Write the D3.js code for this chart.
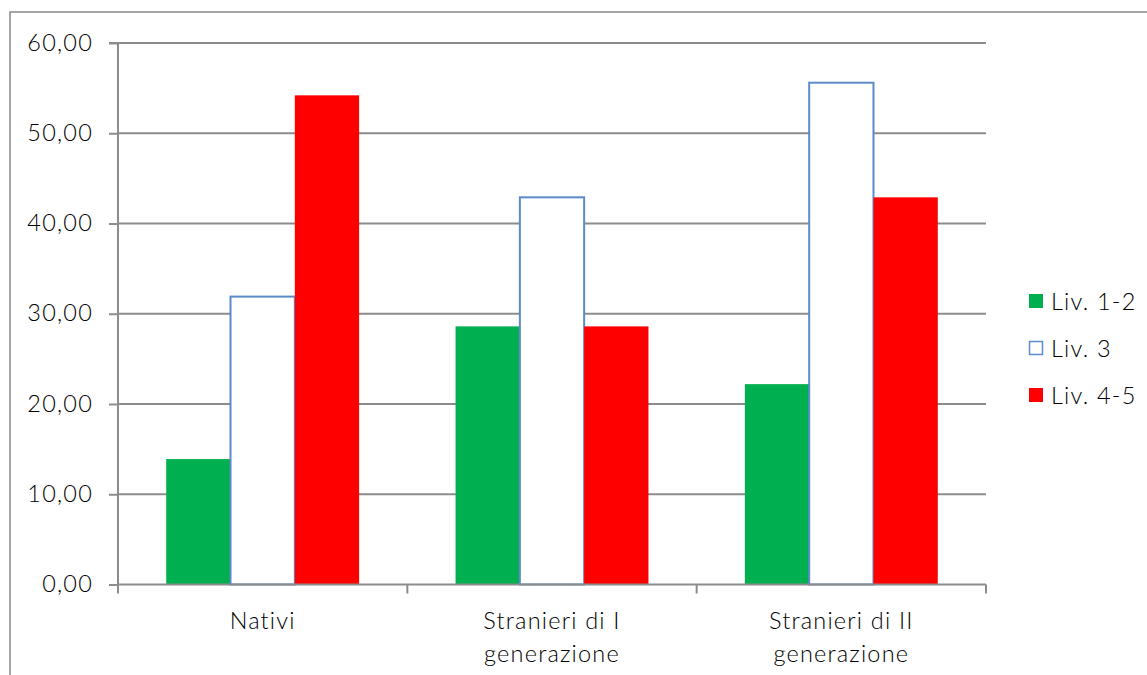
<!DOCTYPE html>
<html><head><meta charset="utf-8">
<script src="https://cdn.jsdelivr.net/npm/d3@7"></script>
<style>body{margin:0;background:#fff}svg{display:block}</style>
</head><body>
<svg id="c" width="1147" height="675"></svg>
<script>
const categories = [["Nativi"], ["Stranieri di I", "generazione"], ["Stranieri di II", "generazione"]];
const seriesNames = ["Liv. 1-2", "Liv. 3", "Liv. 4-5"];
const liv12 = [13.9, 28.6, 22.2];
const liv3 = [31.9, 42.9, 55.6];
const liv45 = [54.2, 28.6, 42.9];
const yTicks = [0, 10, 20, 30, 40, 50, 60];

const series = [liv12, liv3, liv45];
const fills = ["#00b050", "#ffffff", "#ff0000"];
const strokes = [null, "#5b8bc9", null];
const font = "'Century Gothic', 'Lato', 'DejaVu Sans', sans-serif";
const fw = 300;
const fs = 23.5;
const ls = 1.2;

const svg = d3.select("#c");
const L = 118, R = 986, T = 43, B = 584.5;
// frame
svg.append("rect").attr("x", 10).attr("y", 12).attr("width", 1150).attr("height", 680)
  .attr("fill", "none").attr("stroke", "#888").attr("stroke-width", 1.5);

const x0 = d3.scaleBand().domain(d3.range(categories.length)).range([L, R]).paddingInner(0).paddingOuter(0);
const bw = x0.bandwidth() / 4.5;
const y = d3.scaleLinear().domain([0, 60]).range([B, T]);

// gridlines
svg.append("g").selectAll("line").data(yTicks.slice(1)).join("line")
  .attr("x1", L).attr("x2", R).attr("y1", d => y(d)).attr("y2", d => y(d))
  .attr("stroke", "#8c8c8c").attr("stroke-width", 2);

// bars
series.forEach((s, si) => {
  svg.append("g").selectAll("rect").data(s).join("rect")
    .attr("x", (d, i) => x0(i) + bw * 0.75 + si * bw)
    .attr("width", bw)
    .attr("y", d => y(d))
    .attr("height", d => y(0) - y(d))
    .attr("fill", fills[si])
    .attr("stroke", strokes[si] || "none")
    .attr("stroke-width", strokes[si] ? 2 : 0);
});

// y axis
const yAxis = d3.axisLeft(y).tickValues(yTicks).tickSize(9).tickPadding(16)
  .tickFormat(d => d3.format(".2f")(d).replace(".", ","));
const gy = svg.append("g").attr("transform", `translate(${L},0)`).call(yAxis);
gy.select(".domain").attr("stroke", "#8c8c8c").attr("stroke-width", 2).attr("d", `M-9,${T}H0V${B}`);
gy.selectAll(".tick line").attr("stroke", "#8c8c8c").attr("stroke-width", 2);
gy.selectAll(".tick text").attr("font-family", font).attr("font-size", fs).attr("font-weight", fw)
  .attr("letter-spacing", ls).attr("fill", "#000").attr("dy", "0.3em");

// x axis
const xTickPos = d3.range(categories.length + 1).map(i => L + i * x0.bandwidth());
svg.append("line").attr("x1", L).attr("x2", R).attr("y1", B).attr("y2", B)
  .attr("stroke", "#8c8c8c").attr("stroke-width", 2);
svg.append("g").selectAll("line").data(xTickPos).join("line")
  .attr("x1", d => d).attr("x2", d => d).attr("y1", B).attr("y2", B + 9)
  .attr("stroke", "#8c8c8c").attr("stroke-width", 2);
const xl = svg.append("g").selectAll("text").data(categories).join("text")
  .attr("x", (d, i) => x0(i) + x0.bandwidth() / 2)
  .attr("y", 629)
  .attr("text-anchor", "middle")
  .attr("font-family", font).attr("font-size", fs).attr("font-weight", fw)
  .attr("letter-spacing", ls).attr("fill", "#000");
xl.selectAll("tspan").data(d => d).join("tspan")
  .attr("x", function() { return this.parentNode.getAttribute("x"); })
  .attr("dy", (d, i) => i === 0 ? 0 : 33)
  .text(d => d);

// legend
const lg = svg.append("g").selectAll("g").data(seriesNames).join("g")
  .attr("transform", (d, i) => `translate(1029,${294 + i * 47})`);
lg.append("rect")
  .attr("x", (d, i) => strokes[i] ? 0.5 : 0).attr("y", (d, i) => strokes[i] ? 0.5 : 0)
  .attr("width", (d, i) => strokes[i] ? 13 : 14).attr("height", (d, i) => strokes[i] ? 13 : 14)
  .attr("fill", (d, i) => fills[i])
  .attr("stroke", (d, i) => strokes[i] || "none").attr("stroke-width", 1.5);
lg.append("text").attr("x", 22).attr("y", 16)
  .attr("font-family", font).attr("font-size", fs).attr("font-weight", fw)
  .attr("letter-spacing", ls).attr("fill", "#000").text(d => d);
</script>
</body></html>
